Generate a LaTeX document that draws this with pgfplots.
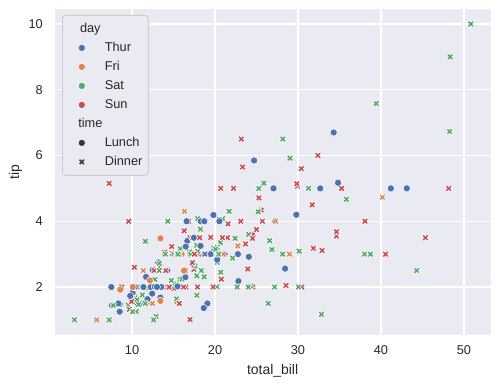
\documentclass[border=0pt]{standalone}
\usepackage{fontspec}
\setmainfont{Liberation Sans}
\usepackage{pgfplots}
\pgfplotsset{compat=1.18}
\definecolor{bgc}{HTML}{EAEAF2}
\definecolor{cthu}{HTML}{4C72B0}
\definecolor{cfri}{HTML}{DD8452}
\definecolor{csat}{HTML}{55A868}
\definecolor{csun}{HTML}{C44E52}
\definecolor{txt}{HTML}{262626}
\definecolor{leg}{HTML}{333333}
\pgfdeclareplotmark{Xf}{%
  \pgfpathmoveto{\pgfpoint{-0.5\pgfplotmarksize}{-\pgfplotmarksize}}%
  \pgfpathlineto{\pgfpoint{0pt}{-0.5\pgfplotmarksize}}%
  \pgfpathlineto{\pgfpoint{0.5\pgfplotmarksize}{-\pgfplotmarksize}}%
  \pgfpathlineto{\pgfpoint{\pgfplotmarksize}{-0.5\pgfplotmarksize}}%
  \pgfpathlineto{\pgfpoint{0.5\pgfplotmarksize}{0pt}}%
  \pgfpathlineto{\pgfpoint{\pgfplotmarksize}{0.5\pgfplotmarksize}}%
  \pgfpathlineto{\pgfpoint{0.5\pgfplotmarksize}{\pgfplotmarksize}}%
  \pgfpathlineto{\pgfpoint{0pt}{0.5\pgfplotmarksize}}%
  \pgfpathlineto{\pgfpoint{-0.5\pgfplotmarksize}{\pgfplotmarksize}}%
  \pgfpathlineto{\pgfpoint{-\pgfplotmarksize}{0.5\pgfplotmarksize}}%
  \pgfpathlineto{\pgfpoint{-0.5\pgfplotmarksize}{0pt}}%
  \pgfpathlineto{\pgfpoint{-\pgfplotmarksize}{-0.5\pgfplotmarksize}}%
  \pgfpathclose
  \pgfusepathqfillstroke}
\pgfplotsset{
  lun/.style={only marks, mark=*, mark size=3.6bp, mark options={draw=white, line width=0.55bp, fill=#1, sharp corners}},
  din/.style={only marks, mark=Xf, mark size=3.4bp, mark options={draw=white, line width=0.55bp, fill=#1, sharp corners}},
}
\begin{document}
\begin{tikzpicture}
\begin{axis}[
  width=435.8bp, height=325.5bp, scale only axis,
  xmin=0.683, xmax=53.197, ymin=0.55, ymax=10.45,
  axis background/.style={fill=bgc},
  axis line style={draw=none},
  major tick length=0pt,
  grid=major, grid style={white, line width=1.1bp},
  xtick={10,20,30,40,50}, ytick={2,4,6,8,10},
  /pgf/number format/assume math mode=true,
  tick label style={font=\fontsize{12.8}{14}\selectfont, text=txt},
  xticklabel style={yshift=-7bp},
  yticklabel style={xshift=-8.4bp},
  xlabel={total\_bill}, ylabel={tip},
  label style={font=\fontsize{14}{16}\selectfont, text=txt},
  xlabel style={at={(axis description cs:0.5,-0.1238)}, anchor=base},
  ylabel style={at={(axis description cs:-0.0819,0.5)}, anchor=base, rotate=0},
  legend cell align=left,
  legend image code/.code={\path[draw=none] (-13.4bp,0bp) -- (0bp,0bp); \draw[#1, sharp corners] plot coordinates {(0bp,0bp)};},
  legend style={at={(axis description cs:0.01675,0.9822)}, anchor=north west,
    draw=black!20, line width=0.8bp, fill=bgc, rounded corners=3bp,
    inner xsep=6bp, inner ysep=7.5bp, font=\fontsize{12.8}{14}\selectfont, text=txt,
    row sep=7bp,
    nodes={inner xsep=0pt, inner ysep=0pt, text height=9.3bp, text depth=2.7bp},
    /tikz/every odd column/.append style={column sep=19.4bp}},
]
% rows 1-19 Sun Dinner
\addplot[din=csun, forget plot] table {
16.99 1.01
10.34 1.66
21.01 3.5
23.68 3.31
24.59 3.61
25.29 4.71
8.77 2.0
26.88 3.12
15.04 1.96
14.78 3.23
10.27 1.71
35.26 5.0
15.42 1.57
18.43 3.0
14.83 3.02
21.58 3.92
10.33 1.67
16.29 3.71
16.97 3.5
};
% rows 20-41 Sat Dinner
\addplot[din=csat, forget plot] table {
20.65 3.35
17.92 4.08
20.29 2.75
15.77 2.23
39.42 7.58
19.82 3.18
17.81 2.34
13.37 2.0
12.69 2.0
21.7 4.3
19.65 3.0
9.55 1.45
18.35 2.5
15.06 3.0
20.69 2.45
17.78 3.27
24.06 3.6
16.31 2.0
16.93 3.07
18.69 2.31
31.27 5.0
16.04 2.24
};
% rows 42-56 Sun Dinner
\addplot[din=csun, forget plot] table {
17.46 2.54
13.94 3.06
9.68 1.32
30.4 5.6
18.29 3.0
22.23 5.0
32.4 6.0
28.55 2.05
18.04 3.0
12.54 2.5
10.29 2.6
34.81 5.2
9.94 1.56
25.56 4.34
19.49 3.51
};
% rows 57-77 Sat Dinner
\addplot[din=csat, forget plot] table {
38.01 3.0
26.41 1.5
11.24 1.76
48.27 6.73
20.29 3.21
13.81 2.0
11.02 1.98
18.29 3.76
17.59 2.64
20.08 3.15
16.45 2.47
3.07 1.0
20.23 2.01
15.01 2.09
12.02 1.97
17.07 3.0
26.86 3.14
25.28 5.0
14.73 2.2
10.51 1.25
17.92 3.08
};
% rows 78-90 Thur Lunch
\addplot[lun=cthu, forget plot] table {
27.2 4.0
22.76 3.0
17.29 2.71
19.44 3.0
16.66 3.4
10.07 1.83
32.68 5.0
15.98 2.03
34.83 5.17
13.03 2.0
18.28 4.0
24.71 5.85
21.16 3.0
};
% rows 91-102 Fri Dinner
\addplot[din=cfri, forget plot] table {
28.97 3.0
22.49 3.5
5.75 1.0
16.32 4.3
22.75 3.25
40.17 4.73
27.28 4.0
12.03 1.5
21.01 3.0
12.46 1.5
11.35 2.5
15.38 3.0
};
% rows 103-112 Sat Dinner
\addplot[din=csat, forget plot] table {
44.3 2.5
22.42 3.48
20.92 4.08
15.36 1.64
20.49 4.06
25.21 4.29
18.24 3.76
14.31 4.0
14.0 3.0
7.25 1.0
};
% rows 113-117 Sun Dinner
\addplot[din=csun, forget plot] table {
38.07 4.0
23.95 2.55
25.71 4.0
17.31 3.5
29.93 5.07
};
% rows 118-150 Thur Lunch
\addplot[lun=cthu, forget plot] table {
10.65 1.5
12.43 1.8
24.08 2.92
11.69 2.31
13.42 1.68
14.26 2.5
15.95 2.0
12.48 2.52
29.8 4.2
8.52 1.48
14.52 2.0
11.38 2.0
22.82 2.18
19.08 1.5
20.27 2.83
11.17 1.5
12.26 2.0
18.26 3.25
8.51 1.25
10.33 2.0
14.15 2.0
16.0 2.0
13.16 2.75
17.47 3.5
34.3 6.7
41.19 5.0
27.05 5.0
16.43 2.3
8.35 1.5
18.64 1.36
11.87 1.63
9.78 1.73
7.51 2.0
};
% rows 151-168 Sun Dinner
\addplot[din=csun, forget plot] table {
14.07 2.5
13.13 2.0
17.26 2.74
24.55 2.0
19.77 2.0
29.85 5.14
48.17 5.0
25.0 3.75
13.39 2.61
16.49 2.0
21.5 3.5
12.66 2.5
16.21 2.0
13.81 2.0
17.51 3.0
24.52 3.48
20.76 2.24
31.71 4.5
};
% rows 169-172 Sat Dinner
\addplot[din=csat, forget plot] table {
10.59 1.61
10.63 2.0
50.81 10.0
15.81 3.16
};
% rows 173-191 Sun Dinner
\addplot[din=csun, forget plot] table {
7.25 5.15
31.85 3.18
16.82 4.0
32.9 3.11
17.89 2.0
14.48 2.0
9.6 4.0
34.63 3.55
34.65 3.68
23.33 5.65
45.35 3.5
23.17 6.5
40.55 3.0
20.69 5.0
20.9 3.5
30.46 2.0
18.15 3.5
23.1 4.0
15.69 1.5
};
% rows 192-206 Thur Lunch
\addplot[lun=cthu, forget plot] table {
19.81 4.19
28.44 2.56
15.48 2.02
16.58 4.0
7.56 1.44
10.34 2.0
43.11 5.0
13.0 2.0
13.51 2.0
18.71 4.0
12.74 2.01
13.0 2.0
16.4 2.5
20.53 4.0
16.47 3.23
};
% rows 207-220 Sat Dinner
\addplot[din=csat, forget plot] table {
26.59 3.41
38.73 3.0
24.27 2.03
12.76 2.23
30.06 2.0
25.89 5.16
48.33 9.0
13.27 2.5
28.17 6.5
12.9 1.1
28.15 3.0
11.59 1.5
7.74 1.44
30.14 3.09
};
% rows 221-227 Fri Lunch
\addplot[lun=cfri, forget plot] table {
12.16 2.2
13.42 3.48
8.58 1.92
15.98 3.0
13.42 1.58
16.27 2.5
10.09 2.0
};
% rows 228-243 Sat Dinner
\addplot[din=csat, forget plot] table {
20.45 3.0
13.28 2.72
22.12 2.88
24.01 2.0
15.69 3.0
11.61 3.39
10.77 1.47
15.53 3.0
10.07 1.25
12.6 1.0
32.83 1.17
35.83 4.67
29.03 5.92
27.18 2.0
22.67 2.0
17.82 1.75
};
% row 244 Thur Dinner
\addplot[din=cthu, forget plot] table {
18.78 3.0
};
% legend
\addlegendimage{empty legend}
\addlegendentry{\hspace*{-30bp}day}
\addlegendimage{lun=cthu}
\addlegendentry{Thur}
\addlegendimage{lun=cfri}
\addlegendentry{Fri}
\addlegendimage{lun=csat}
\addlegendentry{Sat}
\addlegendimage{lun=csun}
\addlegendentry{Sun}
\addlegendimage{empty legend}
\addlegendentry{\hspace*{-30bp}time}
\addlegendimage{lun=leg}
\addlegendentry{Lunch}
\addlegendimage{din=leg}
\addlegendentry{Dinner}
\end{axis}
\pgfresetboundingbox
\path[use as bounding box] ([xshift=-54.7bp,yshift=-50.3bp]current axis.south west) rectangle ([xshift=8.5bp,yshift=9.2bp]current axis.north east);
\end{tikzpicture}
\end{document}
